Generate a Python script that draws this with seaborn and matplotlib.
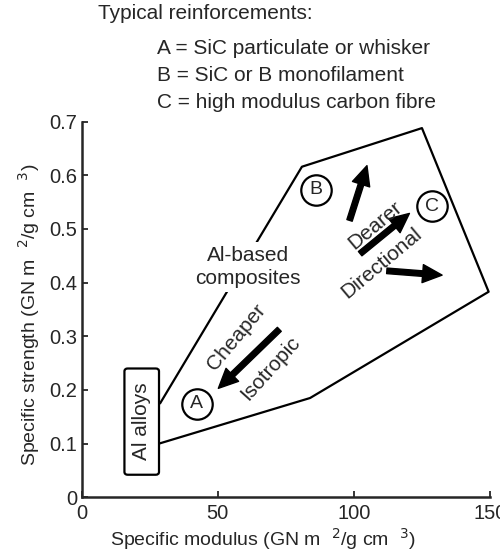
import matplotlib
matplotlib.use("Agg")
import matplotlib.pyplot as plt
from matplotlib.patches import FancyBboxPatch
import seaborn as sns
import pandas as pd

# ---- data ----
# outline of the Al-based composites region (upper edge, round, then lower edge)
outline_x = [28.8, 80.9, 125.0, 149.5, 83.9, 28.4]
outline_y = [0.175, 0.616, 0.688, 0.383, 0.185, 0.100]

# Al alloys box: x range and y range
alloy_box_x = [15.7, 28.4]
alloy_box_y = [0.042, 0.240]

# circled reinforcement markers
circle_labels = ["A", "B", "C"]
circle_x = [42.3, 86.0, 128.7]
circle_y = [0.174, 0.573, 0.542]

# thick arrows (tail -> head)
arrow_tail_x = [72.6, 98.4, 102.3, 112.1]
arrow_tail_y = [0.313, 0.516, 0.454, 0.422]
arrow_head_x = [50.2, 104.8, 120.4, 132.4]
arrow_head_y = [0.203, 0.618, 0.529, 0.414]

# rotated words along the arrows
word_text = ["Cheaper", "Isotropic", "Dearer", "Directional"]
word_x = [57.0, 69.2, 107.8, 110.3]
word_y = [0.299, 0.240, 0.507, 0.436]
word_rot = [50, 48, 40, 40]

x_ticks = [0, 50, 100, 150]
y_ticks = [0, 0.1, 0.2, 0.3, 0.4, 0.5, 0.6, 0.7]
y_tick_labels = ["0", "0.1", "0.2", "0.3", "0.4", "0.5", "0.6", "0.7"]

legend_lines = ["A = SiC particulate or whisker",
                "B = SiC or B monofilament",
                "C = high modulus carbon fibre"]

sns.set_style("ticks")
plt.rcParams['font.family'] = ['Liberation Sans', 'DejaVu Sans']
FS = 15

fig = plt.figure(figsize=(5.0, 5.55), dpi=100)
ax = fig.add_axes([0.1634, 0.104, 0.8166, 0.6768])

outline = pd.DataFrame({"x": outline_x, "y": outline_y})
sns.lineplot(data=outline, x="x", y="y", sort=False, estimator=None,
             color="black", lw=1.6, ax=ax, clip_on=False, zorder=2)

circles = pd.DataFrame({"x": circle_x, "y": circle_y})
sns.scatterplot(data=circles, x="x", y="y", s=480, marker="o",
                facecolor="white", edgecolor="black", linewidth=1.6,
                ax=ax, zorder=4)
for lab, cx, cy in zip(circle_labels, circle_x, circle_y):
    ax.text(cx, cy, lab, ha="center", va="center", fontsize=FS - 1, zorder=5)

for tx, ty, hx, hy in zip(arrow_tail_x, arrow_tail_y, arrow_head_x, arrow_head_y):
    ax.annotate("", xy=(hx, hy), xytext=(tx, ty),
                arrowprops=dict(arrowstyle="simple,head_length=0.7,head_width=0.65,tail_width=0.2",
                                color="black", shrinkA=0, shrinkB=0, mutation_scale=20),
                zorder=5)

for w, wx, wy, r in zip(word_text, word_x, word_y, word_rot):
    ax.text(wx, wy, w, ha="center", va="center", rotation=r,
            rotation_mode="anchor", fontsize=FS, zorder=5)

# labels on the diagram
ax.text(61.1, 0.429, "Al-based\ncomposites", ha="center", va="center",
        fontsize=FS, linespacing=1.25, zorder=5,
        bbox=dict(facecolor="white", edgecolor="none", pad=3))

box = FancyBboxPatch((alloy_box_x[0], alloy_box_y[0]),
                     alloy_box_x[1] - alloy_box_x[0], alloy_box_y[1] - alloy_box_y[0],
                     boxstyle="round,pad=0,rounding_size=1.2", mutation_aspect=0.0045,
                     facecolor="white", edgecolor="black", lw=1.6, zorder=4)
ax.add_patch(box)
ax.text(sum(alloy_box_x) / 2, sum(alloy_box_y) / 2, "Al alloys", ha="center",
        va="center", rotation=90, fontsize=FS, zorder=5)

ax.set_xlim(0, 150)
ax.set_ylim(0, 0.7)
ax.set_xticks(x_ticks)
ax.set_xticklabels([str(t) for t in x_ticks], fontsize=14.5)
ax.set_yticks(y_ticks)
ax.set_yticklabels(y_tick_labels, fontsize=14.5)
ax.tick_params(direction="in", length=4, width=1.3)
ax.tick_params(axis="x", pad=5)
ax.tick_params(axis="y", pad=3)
for side in ["left", "bottom"]:
    ax.spines[side].set_linewidth(1.8)
sns.despine(ax=ax)

ax.set_xlabel("Specific modulus (GN m  $^{2}$/g cm  $^{3}$)", fontsize=14)
ax.set_ylabel("Specific strength (GN m  $^{2}$/g cm  $^{3}$)", fontsize=14)
ax.xaxis.set_label_coords(0.444, -0.078)
ax.yaxis.set_label_coords(-0.097, 0.485)

# header text
fig.text(0.196, 0.975, "Typical reinforcements:", ha="left", va="center", fontsize=FS)
for i, line in enumerate(legend_lines):
    fig.text(0.314, 0.913 - i * 0.0485, line, ha="left", va="center", fontsize=FS)

fig.savefig("out.png", dpi=100)
